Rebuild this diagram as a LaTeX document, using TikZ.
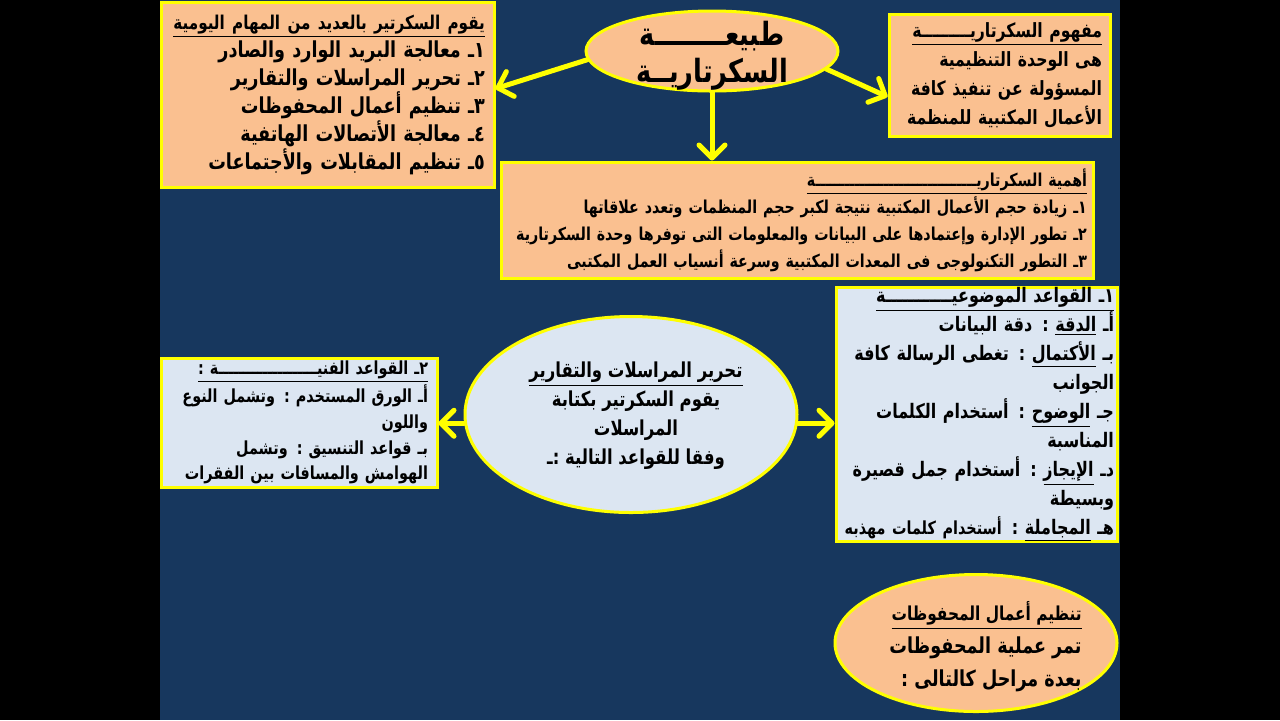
\documentclass[tikz,border=0pt]{standalone}
\usepackage{fontspec}
\usetikzlibrary{arrows.meta,shapes.geometric}
\TeXXeTstate=1
\newfontfamily\arfont[Script=Arabic,FakeStretch=0.8]{DejaVu Sans}
\newcommand\myR[1]{\beginR#1\endR}
\newcommand\fs[2]{\fontsize{#1}{#2}\selectfont}
\ExplSyntaxOn
\cs_new:Npn \tw #1 { \prg_replicate:nn {#1} {ـ} }
\ExplSyntaxOff
\definecolor{navy}{HTML}{17375E}
\definecolor{peach}{HTML}{FAC090}
\definecolor{pale}{HTML}{DCE6F2}
\definecolor{ylw}{HTML}{FFFF00}
\begin{document}
\begin{tikzpicture}[x=0.5pt,y=-0.5pt,
  box/.style={draw=ylw, line width=1.5pt, rectangle, inner ysep=0pt, inner xsep=4.5pt,
     align=right, text=black},
  oval/.style={draw=ylw, line width=1.5pt, ellipse, inner sep=0pt},
  txt/.style={text=black, inner sep=0pt},
  conn/.style={draw=ylw, line width=2.5pt, line cap=round,
     -{Straight Barb[length=6.5pt,width=13pt,line cap=round,round]}}]
\fill[black] (0,0) rectangle (1280,720);
\fill[navy] (160,0) rectangle (1120,720);
\useasboundingbox (0,0) rectangle (1280,720);

% top-left box
\node[box, fill=peach, minimum width=166.5pt, minimum height=92.5pt, text width=157.5pt,
      font=\arfont\bfseries\fs{11}{14}] (tl) at (327.5,94.5)
 {{\fs{9.5}{14}\underline{\myR{يقوم السكرتير بالعديد من المهام اليومية}}}\\
  \myR{١ـ معالجة البريد الوارد والصادر}\\
  \myR{٢ـ تحرير المراسلات والتقارير}\\
  \myR{٣ـ تنظيم أعمال المحفوظات}\\
  \myR{٤ـ معالجة الأتصالات الهاتفية}\\
  \myR{٥ـ تنظيم المقابلات والأجتماعات}};

% top ellipse
\node[oval, fill=peach, minimum width=126pt, minimum height=40pt] (e1) at (712,51) {};
\node[txt, align=center, font=\arfont\bfseries\fs{16}{18.5}] (e1t) at (712,56)
 {\myR{طبيع\tw{8}ة}\\ \myR{السكرتاري\tw{2}ة}};

% top-right box
\node[box, fill=peach, minimum width=110.5pt, minimum height=61pt, text width=102.5pt, inner xsep=4pt,
      font=\arfont\bfseries\fs{9.8}{14.5}] (tr) at (999.5,75)
 {\underline{\myR{مفهوم السكرتاري\tw{9}ة}}\\
  \myR{هى الوحدة التنظيمية}\\
  \myR{المسؤولة عن تنفيذ كافة}\\
  \myR{الأعمال المكتبية للمنظمة}};

% middle box
\node[box, fill=peach, minimum width=296pt, minimum height=58pt, text width=290pt, inner xsep=3pt,
      font=\arfont\bfseries\fs{8.9}{13.5}] (mb) at (797,220)
 {\underline{\myR{أهمية السكرتاري\tw{33}ة}}\\
  \myR{١ـ زيادة حجم الأعمال المكتبية نتيجة لكبر حجم المنظمات وتعدد علاقاتها}\\
  \myR{٢ـ تطور الإدارة وإعتمادها على البيانات والمعلومات التى توفرها وحدة السكرتارية}\\
  \myR{٣ـ التطور التكنولوجى فى المعدات المكتبية وسرعة أنسياب العمل المكتبى}};

% left box
\node[box, fill=pale, minimum width=138pt, minimum height=64.5pt, text width=129pt,
      font=\arfont\bfseries\fs{9}{12.8}] (lb) at (299,422.5)
 {\underline{\myR{٢ـ القواعد الفني\tw{20}ة :}}\\
  \myR{أـ الورق المستخدم : وتشمل النوع}\\
  \myR{واللون}\\
  \myR{بـ قواعد التنسيق : وتشمل}\\
  \myR{الهوامش والمسافات بين الفقرات}};

% middle ellipse
\node[oval, fill=pale, minimum width=166pt, minimum height=98pt] (e2) at (631,414.5) {};
\node[txt, align=center, font=\arfont\bfseries\fs{10.3}{14.5}] (e2t) at (636,416)
 {\underline{\myR{تحرير المراسلات والتقارير}}\\
  \myR{يقوم السكرتير بكتابة}\\
  \myR{المراسلات}\\
  \myR{وفقا للقواعد التالية :ـ}};

% right box
\node[box, fill=pale, minimum width=140.5pt, minimum height=125.5pt, text width=137.5pt, inner xsep=1.5pt,
      font=\arfont\bfseries\fs{10}{14.5}] (rb) at (976.5,414.5)
 {\underline{\myR{١ـ القواعد الموضوعي\tw{12}ة}}\\
  \myR{أـ \underline{الدقة} : دقة البيانات}\\
  \myR{بـ \underline{الأكتمال} : تغطى الرسالة كافة}\\
  \myR{الجوانب}\\
  \myR{جـ \underline{الوضوح} : أستخدام الكلمات}\\
  \myR{المناسبة}\\
  \myR{دـ \underline{الإيجاز} : أستخدام جمل قصيرة}\\
  \myR{وبسيطة}\\
  \myR{هـ \underline{المجاملة} : {\fs{9}{14.5}أستخدام كلمات مهذبه}}};

% bottom ellipse
\node[oval, fill=peach, minimum width=141pt, minimum height=68.5pt] (e3) at (976,643) {};
\node[txt, align=right, anchor=east, font=\arfont\bfseries\fs{11}{16.5}] (e3t) at (1082,647)
 {\underline{\fs{9.6}{16.5}\myR{تنظيم أعمال المحفوظات}}\\
  \myR{تمر عملية المحفوظات}\\
  \myR{بعدة مراحل كالتالى :}};

% connectors
\draw[conn] (e1.184) -- (tl.2);
\draw[conn] (e1.-9) -- (tr.191);
\draw[conn] (e1.south) -- (e1.south |- mb.north);
\draw[conn] (e2.183.5) -- (e2.183.5 -| lb.east);
\draw[conn] (e2.-3.5) -- (e2.-3.5 -| rb.west);
\end{tikzpicture}
\end{document}
